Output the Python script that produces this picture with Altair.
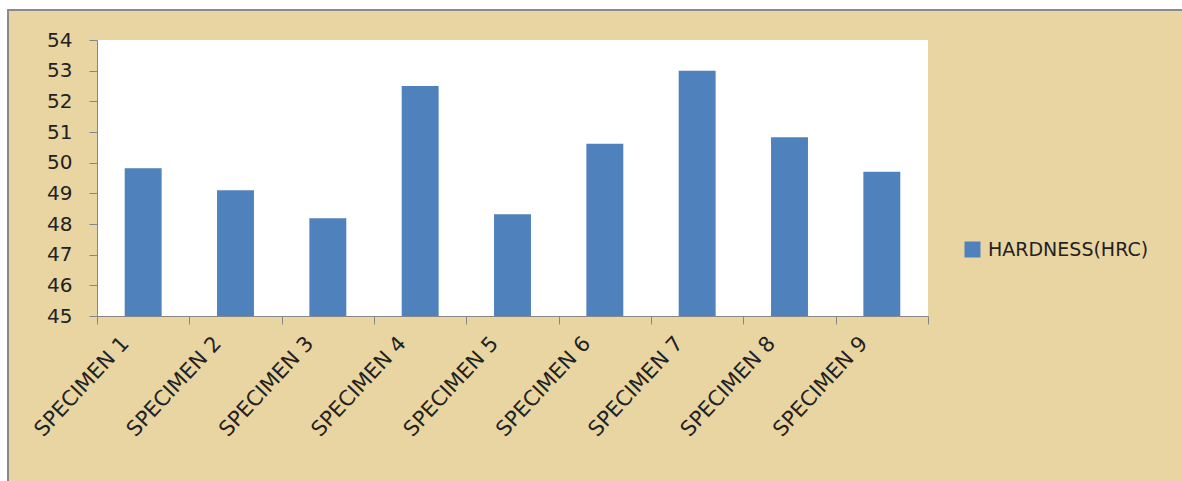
import altair as alt
import pandas as pd

categories = ["SPECIMEN 1", "SPECIMEN 2", "SPECIMEN 3", "SPECIMEN 4", "SPECIMEN 5",
              "SPECIMEN 6", "SPECIMEN 7", "SPECIMEN 8", "SPECIMEN 9"]
hardness = [49.82, 49.10, 48.19, 52.50, 48.32, 50.62, 53.00, 50.83, 49.70]
series_name = "HARDNESS(HRC)"
y_ticks = [45, 46, 47, 48, 49, 50, 51, 52, 53, 54]

W, H = 831, 276
PAD_L, PAD_T, PAD_R, PAD_B = 97, 40, 254, 165
FONT = "DejaVu Sans"
TAN = "#E9D5A1"
BLUE = "#4F81BD"
GREY = "#868686"

df = pd.DataFrame({"cat": categories, "val": hardness, "series": [series_name] * len(categories)})
one = pd.DataFrame({"k": [0]})

# decorative chart frame (tan paper with grey border)
paper = alt.Chart(one).mark_rect(color=TAN).encode(
    x=alt.value(-PAD_L + 7), x2=alt.value(W + PAD_R),
    y=alt.value(-PAD_T + 9), y2=alt.value(H + PAD_B),
)
frame_top = alt.Chart(one).mark_rule(color="#8A8A8A", strokeWidth=2).encode(
    x=alt.value(-PAD_L + 7), x2=alt.value(W + PAD_R), y=alt.value(-PAD_T + 10),
)
frame_left = alt.Chart(one).mark_rule(color="#8A8A8A", strokeWidth=2).encode(
    x=alt.value(-PAD_L + 8), y=alt.value(-PAD_T + 9), y2=alt.value(H + PAD_B),
)
plot_bg = alt.Chart(one).mark_rect(color="white").encode(
    x=alt.value(0), x2=alt.value(W), y=alt.value(0), y2=alt.value(H),
)

bars = alt.Chart(df).mark_bar(width=alt.RelativeBandSize(0.4)).encode(
    x=alt.X("cat:N", sort=categories, title=None,
            scale=alt.Scale(paddingInner=0, paddingOuter=0),
            axis=alt.Axis(labelAngle=-47, tickBand="extent", labelOffset=-18,
                          labelPadding=16, tickSize=8, labelOverlap=False,
                          labelFontSize=21, labelLimit=0, zindex=1)),
    y=alt.Y("val:Q", title=None,
            scale=alt.Scale(domain=[45, 54], nice=False, zero=False),
            axis=alt.Axis(values=y_ticks, tickSize=8, labelPadding=17, grid=False,
                          labelFontSize=20, zindex=1)),
    y2=alt.datum(45),
    color=alt.Color("series:N", scale=alt.Scale(range=[BLUE]),
                    legend=alt.Legend(title=None, orient="none", legendX=866, legendY=200,
                                      symbolType="square", symbolSize=256,
                                      symbolStrokeWidth=0, labelFontSize=19,
                                      labelFont=FONT, labelColor="#222222",
                                      labelLimit=0, labelOffset=6, zindex=1)),
)

chart = alt.layer(paper, frame_top, frame_left, plot_bg, bars).properties(
    width=W, height=H,
    autosize=alt.AutoSizeParams(type="none"),
    padding={"left": PAD_L, "top": PAD_T, "right": PAD_R, "bottom": PAD_B},
    background="white",
).configure_view(stroke=None).configure_axis(
    domainColor=GREY, tickColor=GREY, labelFont=FONT,
    labelColor="#222222", domainWidth=1, tickWidth=1,
)

chart.save("out.html", embed_options={"renderer": "svg", "actions": False})
